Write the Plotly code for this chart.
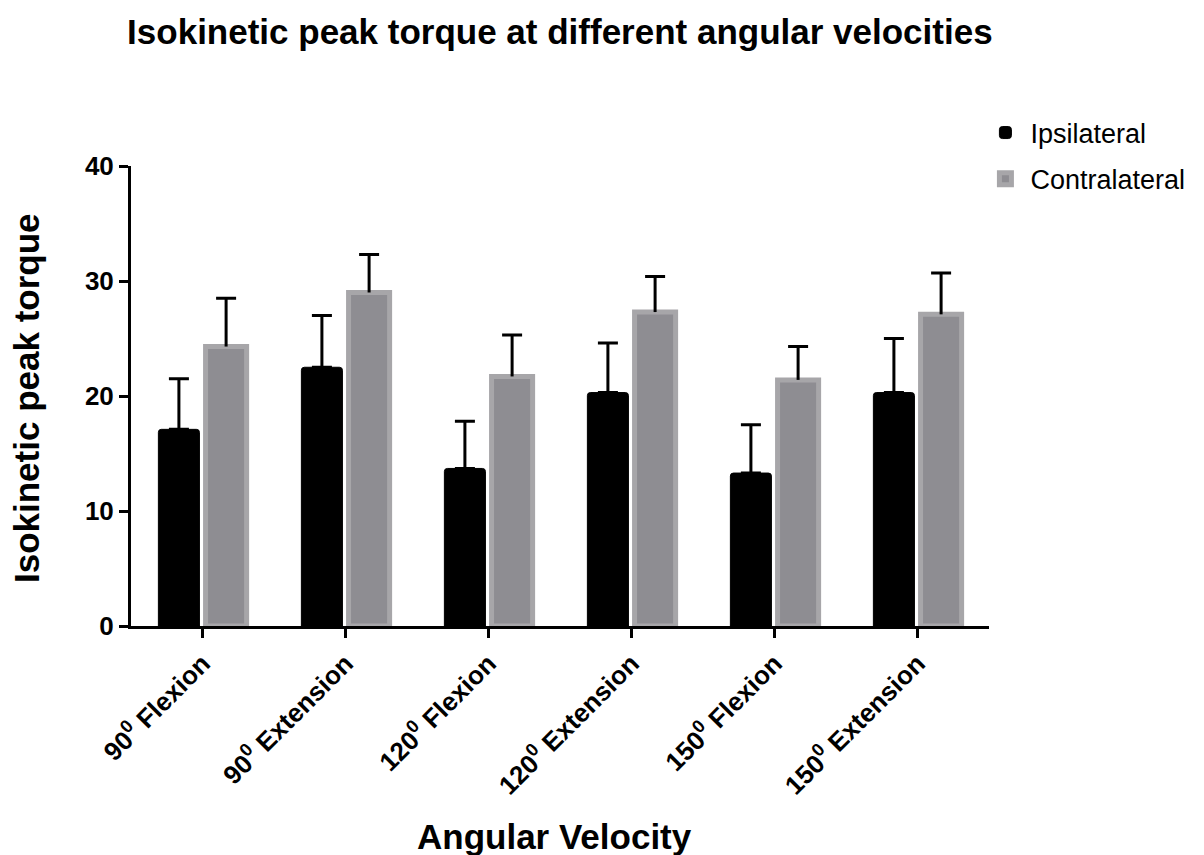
import plotly.graph_objs as go

categories = ["90<sup>0</sup> Flexion", "90<sup>0</sup> Extension", "120<sup>0</sup> Flexion",
              "120<sup>0</sup> Extension", "150<sup>0</sup> Flexion", "150<sup>0</sup> Extension"]
ipsilateral = [17.1, 22.5, 13.7, 20.3, 13.3, 20.3]
ipsilateral_err = [4.4, 4.5, 4.1, 4.3, 4.2, 4.7]
contralateral = [24.3, 29.0, 21.7, 27.3, 21.4, 27.1]
contralateral_err = [4.2, 3.3, 3.6, 3.1, 2.9, 3.6]
y_ticks = [0, 10, 20, 30, 40]

font = "Liberation Sans, Arial, sans-serif"

fig = go.Figure()
fig.add_trace(go.Bar(
    x=categories, y=ipsilateral, name="Ipsilateral", offsetgroup="ipsi", legendgroup="ipsi",
    marker=dict(color="#000000", line=dict(color="#000000", width=1), cornerradius=3),
    error_y=dict(type="data", array=ipsilateral_err, arrayminus=[0] * 6, symmetric=False,
                 color="#000000", thickness=3, width=10),
))
# contralateral bars: stem only (no caps), the cap comes from the overlay below
fig.add_trace(go.Bar(
    x=categories, y=contralateral, name="Contralateral", offsetgroup="contra", legendgroup="contra",
    marker=dict(color="#8e8d92", line=dict(color="#a7a6a9", width=5)),
    error_y=dict(type="data", array=contralateral_err, arrayminus=[0] * 6, symmetric=False,
                 color="#000000", thickness=3, width=0),
))
contra_top = [v + e for v, e in zip(contralateral, contralateral_err)]
fig.add_trace(go.Bar(
    x=categories, y=[0] * 6, base=contra_top, offsetgroup="contra", showlegend=False,
    hoverinfo="skip", marker=dict(color="rgba(0,0,0,0)", line=dict(width=0)),
    error_y=dict(type="data", array=[0] * 6, arrayminus=[0] * 6, symmetric=False,
                 color="#000000", thickness=3, width=10),
))

fig.update_layout(
    width=1204, height=855,
    margin=dict(l=131, r=215, t=166, b=229),
    plot_bgcolor="white", paper_bgcolor="white",
    font=dict(family=font, color="#000000"),
    barmode="group", bargap=0.34, bargroupgap=0.13,
    title=dict(text="<b>Isokinetic peak torque at different angular velocities</b>",
               x=0.465, xanchor="center", y=0.963, yanchor="middle",
               font=dict(size=35, family=font)),
    legend=dict(x=0.99, y=1.125, xanchor="left", yanchor="top",
                font=dict(size=27, family=font), tracegroupgap=8, itemwidth=40,
                bgcolor="rgba(0,0,0,0)"),
    showlegend=True,
)
fig.update_xaxes(
    range=[-0.5, 5.5], showline=True, linecolor="#000000", linewidth=3,
    ticks="outside", ticklen=9, tickwidth=3, tickcolor="#000000",
    tickangle=-45, tickfont=dict(size=26, family=font, weight="bold"),
    showgrid=False, zeroline=False, automargin=False,
)
fig.update_yaxes(
    range=[0, 40], tickvals=y_ticks, showline=True, linecolor="#000000", linewidth=3,
    ticks="outside", ticklen=9, tickwidth=3, tickcolor="#000000",
    tickfont=dict(size=26, family=font, weight="bold"),
    showgrid=False, zeroline=False, automargin=False,
)
fig.add_annotation(text="<b>Angular Velocity</b>", xref="paper", yref="paper",
                   x=0.494, y=-0.458, xanchor="center", yanchor="middle",
                   showarrow=False, font=dict(size=35, family=font))
fig.add_annotation(text="<b>Isokinetic peak torque</b>", xref="paper", yref="paper",
                   x=-0.121, y=0.496, xanchor="center", yanchor="middle", textangle=-90,
                   showarrow=False, font=dict(size=35, family=font))

fig.write_html("out.html", config={"displayModeBar": False},
               post_script="document.body.style.margin='0';")
